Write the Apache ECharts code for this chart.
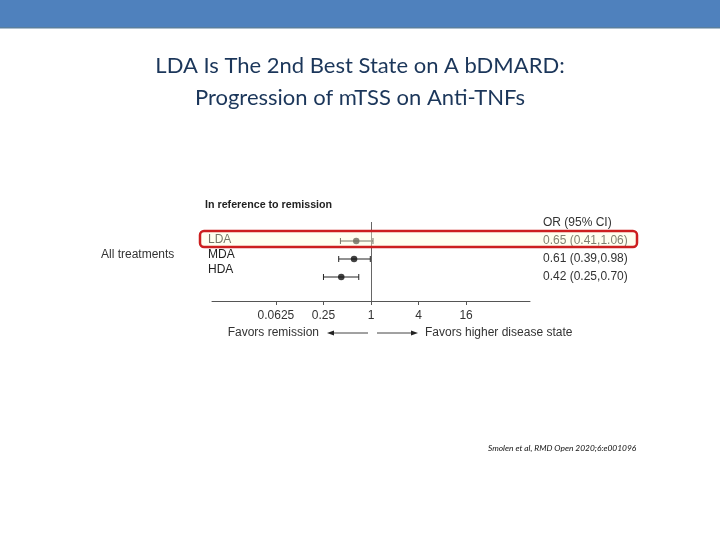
<!DOCTYPE html>
<html>
<head>
<meta charset="utf-8">
<script src="https://cdn.jsdelivr.net/npm/echarts@6/dist/echarts.min.js"></script>
<style>html,body{margin:0;padding:0;background:#fff}#c{width:720px;height:540px}</style>
</head>
<body>
<div id="c"></div>
<script>
// ---- data ----
const states = ['LDA', 'MDA', 'HDA'];
const orValues = [0.65, 0.61, 0.42];
const ciLow = [0.41, 0.39, 0.25];
const ciHigh = [1.06, 0.98, 0.70];
const xTicks = [0.0625, 0.25, 1, 4, 16];
const xTickLabels = ['0.0625', '0.25', '1', '4', '16'];
const titleLines = ['LDA Is The 2nd Best State on A bDMARD:', 'Progression of mTSS on Anti-TNFs'];
const groupLabel = 'All treatments';
const refLabel = 'In reference to remission';
const ciHeader = 'OR (95% CI)';
const favorsLeft = 'Favors remission';
const favorsRight = 'Favors higher disease state';
const source = 'Smolen et al, RMD Open 2020;6:e001096';

const chart = echarts.init(document.getElementById('c'), null, {renderer: 'canvas'});
const font = 'Liberation Sans, Arial, sans-serif';

const errData = states.map((s, i) => [ciLow[i], ciHigh[i], i]);
const ptData = states.map((s, i) => [orValues[i], i]);
const ciText = states.map((s, i) => orValues[i].toFixed(2) + ' (' + ciLow[i].toFixed(2) + ',' + ciHigh[i].toFixed(2) + ')');

const option = {
  animation: false,
  backgroundColor: '#ffffff',
  grid: [
    {left: 212, right: 190, top: 222, height: 79},
    {left: 212, right: 190, top: 232.5, height: 45}
  ],
  xAxis: [
    {
      gridIndex: 0, type: 'log', logBase: 2, position: 'bottom',
      min: Math.pow(2, -6.69), max: Math.pow(2, 6.69),
      axisLine: {show: true, onZero: false, lineStyle: {color: '#555', width: 1}},
      axisTick: {show: true, length: 4, customValues: xTicks, lineStyle: {color: '#555'}},
      axisLabel: {
        customValues: xTicks, margin: 9, color: '#333', fontSize: 12, fontFamily: font,
        formatter: v => { const k = xTicks.findIndex(t => Math.abs(t - v) < 1e-9); return k >= 0 ? xTickLabels[k] : ''; }
      },
      splitLine: {show: false}, minorTick: {show: false}
    },
    {gridIndex: 1, type: 'value', min: 0, max: 1, show: false}
  ],
  yAxis: [
    {
      gridIndex: 0, type: 'value', inverse: true, min: -1.056, max: 3.333,
      axisLine: {show: false}, axisTick: {show: false}, splitLine: {show: false},
      axisLabel: {show: false}
    },
    {
      gridIndex: 0, type: 'value', inverse: true, min: -1.056, max: 3.333, position: 'right',
      axisLine: {show: false}, axisTick: {show: false}, splitLine: {show: false},
      axisLabel: {
        customValues: [0, 1, 2], align: 'left', margin: 13, color: '#333', fontSize: 12, fontFamily: font,
        formatter: v => ciText[Math.round(v)] || ''
      }
    },
    {
      gridIndex: 1, type: 'category', inverse: true, data: states,
      axisLine: {show: false}, axisTick: {show: false}, splitLine: {show: false},
      axisLabel: {interval: 0, align: 'left', margin: 4, color: '#222', fontSize: 12, fontFamily: font, hideOverlap: false}
    }
  ],
  series: [
    {
      type: 'custom', xAxisIndex: 0, yAxisIndex: 0, data: errData,
      encode: {x: [0, 1], y: 2},
      renderItem: function (params, api) {
        const p1 = api.coord([api.value(0), api.value(2)]);
        const p2 = api.coord([api.value(1), api.value(2)]);
        const h = 3;
        const st = {stroke: '#222', lineWidth: 1};
        return {type: 'group', children: [
          {type: 'line', shape: {x1: p1[0], y1: p1[1], x2: p2[0], y2: p2[1]}, style: st},
          {type: 'line', shape: {x1: p1[0], y1: p1[1] - h, x2: p1[0], y2: p1[1] + h}, style: st},
          {type: 'line', shape: {x1: p2[0], y1: p2[1] - h, x2: p2[0], y2: p2[1] + h}, style: st}
        ]};
      },
      z: 3
    },
    {
      type: 'scatter', xAxisIndex: 0, yAxisIndex: 0, data: ptData,
      symbol: 'circle', symbolSize: 6.5, itemStyle: {color: '#111'}, z: 4,
      markLine: {
        silent: true, symbol: 'none', label: {show: false},
        lineStyle: {color: '#666', width: 1, type: 'solid'},
        data: [{xAxis: 1}]
      }
    }
  ],
  graphic: [
    {type: 'rect', shape: {x: 0, y: 0, width: 720, height: 27}, style: {fill: '#4F81BD'}, z: 1},
    {type: 'rect', shape: {x: 0, y: 27, width: 720, height: 1.5}, style: {fill: '#5A7F9E'}, z: 1},
    {type: 'text', x: 360, y: 66, style: {text: titleLines[0], fill: '#1B365A', font: '22px Lato, sans-serif', align: 'center', verticalAlign: 'middle'}},
    {type: 'text', x: 360, y: 98, style: {text: titleLines[1], fill: '#1B365A', font: '22px Lato, sans-serif', align: 'center', verticalAlign: 'middle'}},
    {type: 'text', x: 205, y: 205, style: {text: refLabel, fill: '#222', font: 'bold 10.7px ' + font, verticalAlign: 'middle'}},
    {type: 'text', x: 101, y: 255, style: {text: groupLabel, fill: '#333', font: '12px ' + font, verticalAlign: 'middle'}},
    {type: 'text', x: 543, y: 223, style: {text: ciHeader, fill: '#333', font: '12px ' + font, verticalAlign: 'middle'}},
    {type: 'text', x: 319, y: 333, style: {text: favorsLeft, fill: '#333', font: '12px ' + font, align: 'right', verticalAlign: 'middle'}},
    {type: 'text', x: 425, y: 333, style: {text: favorsRight, fill: '#333', font: '12px ' + font, verticalAlign: 'middle'}},
    {type: 'line', shape: {x1: 368, y1: 333, x2: 332, y2: 333}, style: {stroke: '#444', lineWidth: 1}},
    {type: 'polygon', shape: {points: [[327, 333], [334, 330.5], [334, 335.5]]}, style: {fill: '#222'}},
    {type: 'line', shape: {x1: 377, y1: 333, x2: 413, y2: 333}, style: {stroke: '#444', lineWidth: 1}},
    {type: 'polygon', shape: {points: [[418, 333], [411, 330.5], [411, 335.5]]}, style: {fill: '#222'}},
    {type: 'rect', shape: {x: 200, y: 231, width: 437, height: 16, r: 4}, style: {fill: 'rgba(255,255,215,0.38)', stroke: '#CC1F1F', lineWidth: 2.5}, z: 100},
    {type: 'text', x: 488, y: 448, style: {text: source, fill: '#111', font: 'italic 8.4px Lato, sans-serif', verticalAlign: 'middle'}}
  ]
};
chart.setOption(option);
</script>
</body>
</html>
